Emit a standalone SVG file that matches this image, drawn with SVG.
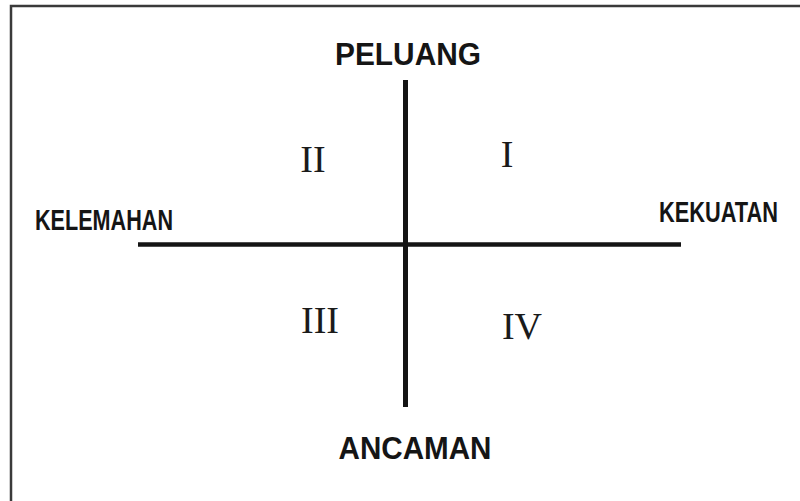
<svg xmlns="http://www.w3.org/2000/svg" width="800" height="501" viewBox="0 0 800 501">
<style>
.lab{font-family:"Liberation Sans",Arial,sans-serif;font-weight:bold;fill:#151515}
.num{font-family:"Liberation Serif","Times New Roman",serif;fill:#1a1a1a;font-size:38px}
.ax{stroke:#141414;fill:none}
</style>
<rect width="800" height="501" fill="#ffffff"/>
<path d="M11 510 V6 H810" fill="none" stroke="#3a3a3a" stroke-width="2.5"/>
<g id="connectors">
<line class="ax" x1="405.5" y1="80" x2="405.5" y2="407" stroke-width="5"/>
<line class="ax" x1="138" y1="244.5" x2="681" y2="244.5" stroke-width="4.5"/>
</g>
<g id="peluang"><text class="lab" x="408" y="65" font-size="31" text-anchor="middle" textLength="146" lengthAdjust="spacingAndGlyphs">PELUANG</text></g>
<g id="ancaman"><text class="lab" x="415" y="459" font-size="31" text-anchor="middle" textLength="153" lengthAdjust="spacingAndGlyphs">ANCAMAN</text></g>
<g id="kelemahan"><text class="lab" x="35" y="230" font-size="30" textLength="138" lengthAdjust="spacingAndGlyphs">KELEMAHAN</text></g>
<g id="kekuatan"><text class="lab" x="659" y="222" font-size="30" textLength="119" lengthAdjust="spacingAndGlyphs">KEKUATAN</text></g>
<g id="q1"><text class="num" x="507" y="167" text-anchor="middle">I</text></g>
<g id="q2"><text class="num" x="313" y="172" text-anchor="middle">II</text></g>
<g id="q3"><text class="num" x="320" y="333" text-anchor="middle">III</text></g>
<g id="q4"><text class="num" x="522" y="339" text-anchor="middle">IV</text></g>
</svg>
